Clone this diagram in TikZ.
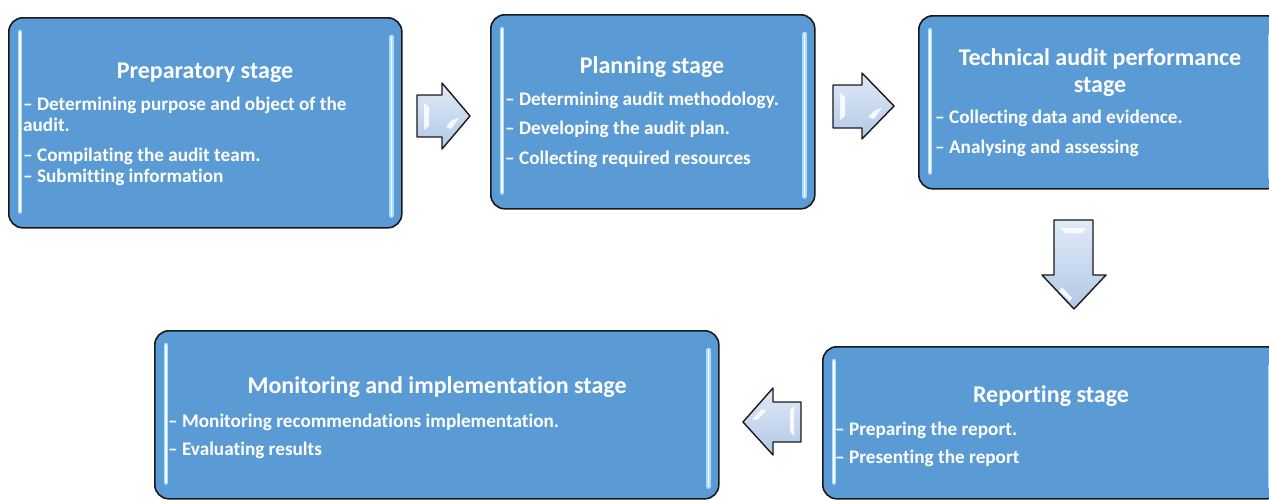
\documentclass[tikz,border=0pt]{standalone}
\usepackage{fontspec}
\setmainfont{Carlito}[Ligatures={NoCommon}]
\definecolor{boxblue}{RGB}{91,155,213}
\definecolor{glow}{RGB}{170,222,250}
\definecolor{arrtop}{RGB}{224,234,247}
\definecolor{arrbot}{RGB}{178,200,231}
\begin{document}
\begin{tikzpicture}[x=1pt,y=-1pt,
  stagebox/.style={draw=black!90, line width=1.6pt, fill=boxblue, rounded corners=14pt, inner sep=0pt, anchor=north west},
  glowbar/.style={line cap=round, draw=white, line width=1.3pt, preaction={draw=glow, line width=4.5pt, line cap=round}},
  stagetitle/.style={text=white, font=\fontsize{24}{28}\selectfont\bfseries, anchor=base, inner sep=0pt},
  stageitem/.style={text=white, font=\fontsize{19.2}{23}\selectfont\bfseries, anchor=base west, inner sep=0pt},
  blockarrow/.style={draw=black!90, line width=1.4pt, line join=round, top color=arrtop, bottom color=arrbot},
  shine/.style={fill=white, opacity=0.85, draw=none}]
\useasboundingbox (0,0) rectangle (1269,499);
\clip (0,0) rectangle (1269,499);

% stage boxes
\node[stagebox, minimum width=393pt, minimum height=210pt] (prep) at (8,17) {};
\node[stagebox, minimum width=324pt, minimum height=194pt] (plan) at (490,14) {};
\node[stagebox, minimum width=362pt, minimum height=173pt] (tech) at (918,15) {};
\node[stagebox, minimum width=458pt, minimum height=152pt] (rep) at (822,346) {};
\node[stagebox, minimum width=564pt, minimum height=168pt] (mon) at (154,330) {};

% glowing side bars
\foreach \b in {prep,plan,tech,rep,mon}{
  \draw[glowbar] ([xshift=12pt,yshift=-15pt]\b.north west) -- ([xshift=12pt,yshift=17pt]\b.south west);
  \draw[glowbar] ([xshift=-11pt,yshift=-20pt]\b.north east) -- ([xshift=-11pt,yshift=13pt]\b.south east);
}

% texts: preparatory
\node[stagetitle] (prepT) at (205,78) {Preparatory stage};
\node[stageitem] (prep1) at (23,110) {– Determining purpose and object of the};
\node[stageitem] (prep2) at (23,131) {audit.};
\node[stageitem] (prep3) at (23,161) {– Compilating the audit team.};
\node[stageitem] (prep4) at (23,182) {– Submitting information};

% planning
\node[stagetitle] (planT) at (652,73) {Planning stage};
\node[stageitem] (plan1) at (505,105) {– Determining audit methodology.};
\node[stageitem] (plan2) at (505,134) {– Developing the audit plan.};
\node[stageitem] (plan3) at (505,164) {– Collecting required resources};

% technical
\node[stagetitle] (techT1) at (1100,65) {Technical audit performance};
\node[stagetitle] (techT2) at (1100,92) {stage};
\node[stageitem] (tech1) at (935,123) {– Collecting data and evidence.};
\node[stageitem] (tech2) at (935,153) {– Analysing and assessing};

% reporting
\node[stagetitle] (repT) at (1051,402) {Reporting stage};
\node[stageitem] (rep1) at (835,435) {– Preparing the report.};
\node[stageitem] (rep2) at (835,463) {– Presenting the report};

% monitoring
\node[stagetitle] (monT) at (437,393) {Monitoring and implementation stage};
\node[stageitem] (mon1) at (168,427) {– Monitoring recommendations implementation.};
\node[stageitem] (mon2) at (168,455) {– Evaluating results};

% block arrows
\draw[blockarrow] (417,95) -- (442,95) -- (442,83) -- (470,116) -- (442,149) -- (442,137) -- (417,137) -- cycle;
\fill[shine] (424,103) -- (429,107) -- (429,126) -- (424,130) -- cycle;
\fill[shine] (459,118) -- (451,129) -- (446,127) -- (452,120) -- cycle;

\draw[blockarrow] (833,85) -- (862,85) -- (862,73) -- (894,106) -- (862,139) -- (862,128) -- (833,128) -- cycle;
\fill[shine] (840,93) -- (845,97) -- (845,116) -- (840,120) -- cycle;
\fill[shine] (882,108) -- (874,119) -- (868,117) -- (875,110) -- cycle;

\draw[blockarrow] (1054,220) -- (1093,220) -- (1093,275) -- (1106,275) -- (1074,309) -- (1042,275) -- (1054,275) -- cycle;
\fill[shine] (1061,228) -- (1086,228) -- (1082,233) -- (1065,233) -- cycle;
\fill[shine] (1062,287) -- (1072,298) -- (1070,301) -- (1059,291) -- cycle;

\draw[blockarrow] (743,422) -- (773,388) -- (773,402) -- (801,402) -- (801,442) -- (773,442) -- (773,455) -- cycle;
\fill[shine] (790,410) -- (794,406) -- (794,436) -- (790,432) -- cycle;
\fill[shine] (752,419) -- (762,409) -- (766,411) -- (757,420) -- cycle;
\end{tikzpicture}
\end{document}
